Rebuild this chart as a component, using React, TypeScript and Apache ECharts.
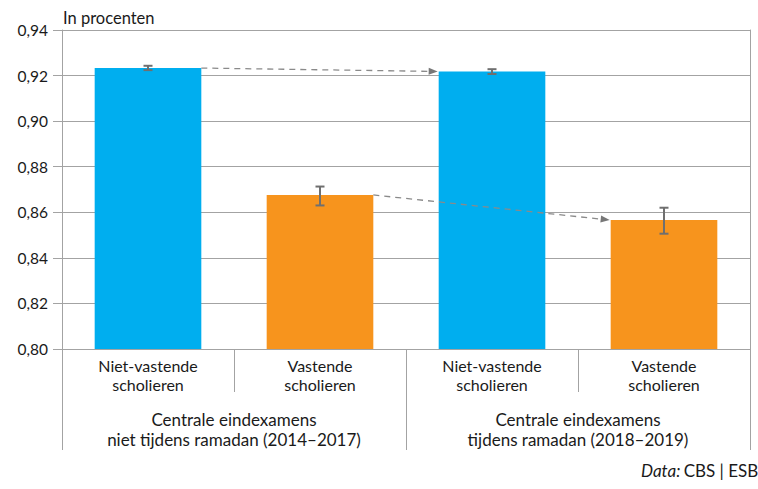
import React, { useEffect, useRef } from "react";
import * as echarts from "echarts";

const categories = [
  "Niet-vastende\nscholieren",
  "Vastende\nscholieren",
  "Niet-vastende\nscholieren",
  "Vastende\nscholieren",
];
const groups = [
  "Centrale eindexamens\nniet tijdens ramadan (2014–2017)",
  "Centrale eindexamens\ntijdens ramadan (2018–2019)",
];
const values = [0.9233, 0.8676, 0.9218, 0.8566];
const errLow = [0.9224, 0.863, 0.9207, 0.8506];
const errHigh = [0.9243, 0.8713, 0.9228, 0.862];
const barColors = ["#00AEEF", "#F7941D", "#00AEEF", "#F7941D"];
const arrows = [
  [0, 2],
  [1, 3],
];
const yMin = 0.8;
const yMax = 0.94;
const yStep = 0.02;

const FONT = "'Lato', sans-serif";
const BAR_FRAC = 0.62;
const TXT = "#1a1a1a";

export default function App() {
  const ref = useRef<HTMLDivElement>(null);
  useEffect(() => {
    if (!ref.current) return;
    const chart = echarts.init(ref.current, undefined, { renderer: "svg" });
    const grey = "#a3a3a3";
    chart.setOption({
      animation: false,
      textStyle: { fontFamily: FONT },
      title: {
        text: "In procenten",
        left: 58,
        top: 4,
        textStyle: { fontFamily: FONT, fontSize: 16.5, fontWeight: "normal", color: TXT },
      },
      grid: { left: 62, right: 8, top: 30, bottom: 140, containLabel: false },
      xAxis: [
        {
          type: "category",
          data: categories,
          axisLine: { show: true, lineStyle: { color: grey, width: 1 } },
          axisTick: { show: true, length: 43, alignWithLabel: false, lineStyle: { color: grey } },
          axisLabel: { margin: 7, fontSize: 16, lineHeight: 19, color: TXT, fontFamily: FONT, interval: 0 },
        },
        {
          type: "category",
          data: groups,
          position: "bottom",
          axisLine: { show: false },
          axisTick: { show: true, length: 101, alignWithLabel: false, lineStyle: { color: grey } },
          axisLabel: { margin: 60, fontSize: 17, lineHeight: 20, color: TXT, fontFamily: FONT, interval: 0 },
        },
      ],
      yAxis: [
        {
          type: "value",
          min: yMin,
          max: yMax,
          interval: yStep,
          axisLine: { show: true, lineStyle: { color: grey } },
          axisTick: { show: true, length: 9, lineStyle: { color: grey } },
          axisLabel: {
            fontSize: 15.5,
            color: TXT,
            margin: 14,
            fontFamily: FONT,
            formatter: (v: number) => v.toFixed(2).replace(".", ","),
          },
          splitLine: { show: true, lineStyle: { color: grey, width: 1 } },
        },
        {
          type: "value",
          min: yMin,
          max: yMax,
          interval: yStep,
          position: "right",
          axisLine: { show: true, lineStyle: { color: grey } },
          axisTick: { show: false },
          axisLabel: { show: false },
          splitLine: { show: false },
        },
      ],
      graphic: [
        {
          type: "text",
          left: 641,
          top: 462,
          style: {
            text: "{i|Data:} {n|CBS | ESB}",
            rich: {
              i: { fontFamily: FONT, fontSize: 17, fontStyle: "italic", fill: TXT },
              n: { fontFamily: FONT, fontSize: 17, fill: TXT },
            },
          },
        },
      ],
      series: [
        {
          type: "bar",
          xAxisIndex: 0,
          yAxisIndex: 0,
          barWidth: BAR_FRAC * 100 + "%",
          data: values.map((v, i) => ({ value: v, itemStyle: { color: barColors[i] } })),
          z: 2,
        },
        {
          type: "custom",
          xAxisIndex: 0,
          yAxisIndex: 0,
          z: 5,
          encode: { x: 0, y: [1, 2] },
          data: values.map((_, i) => [i, errLow[i], errHigh[i]]),
          renderItem: (params: any, api: any) => {
            const i = api.value(0);
            const lo = api.coord([i, api.value(1)]);
            const hi = api.coord([i, api.value(2)]);
            const cw = 4.5;
            const st = { stroke: "#6f6f6f", lineWidth: 2 };
            return {
              type: "group",
              children: [
                { type: "line", shape: { x1: lo[0], y1: lo[1], x2: hi[0], y2: hi[1] }, style: st },
                { type: "line", shape: { x1: hi[0] - cw, y1: hi[1], x2: hi[0] + cw, y2: hi[1] }, style: st },
                { type: "line", shape: { x1: lo[0] - cw, y1: lo[1], x2: lo[0] + cw, y2: lo[1] }, style: st },
              ],
            };
          },
        },
        {
          type: "custom",
          xAxisIndex: 0,
          yAxisIndex: 0,
          z: 6,
          encode: { x: [0, 2], y: [1, 3] },
          data: arrows.map(([a, b]) => [a, values[a], b, values[b]]),
          renderItem: (params: any, api: any) => {
            const bw = api.size([1, 0])[0] * BAR_FRAC;
            const p1 = api.coord([api.value(0), api.value(1)]);
            const p2 = api.coord([api.value(2), api.value(3)]);
            const x1 = p1[0] + bw / 2;
            const y1 = p1[1];
            const x2 = p2[0] - bw / 2 - 1;
            const y2 = p2[1];
            const dx = x2 - x1;
            const dy = y2 - y1;
            const len = Math.sqrt(dx * dx + dy * dy);
            const ux = dx / len;
            const uy = dy / len;
            const hl = 9;
            const hw = 3.5;
            const bx = x2 - ux * hl;
            const by = y2 - uy * hl;
            return {
              type: "group",
              children: [
                {
                  type: "line",
                  shape: { x1, y1, x2: bx, y2: by },
                  style: { stroke: "#8a8a8a", lineWidth: 1.3, lineDash: [6, 5] },
                },
                {
                  type: "polygon",
                  shape: {
                    points: [
                      [x2, y2],
                      [bx - uy * hw, by + ux * hw],
                      [bx + uy * hw, by - ux * hw],
                    ],
                  },
                  style: { fill: "#777" },
                },
              ],
            };
          },
        },
      ],
    });
    return () => chart.dispose();
  }, []);
  return <div ref={ref} style={{ width: 758, height: 489, position: "absolute", left: 0, top: 0 }} />;
}
